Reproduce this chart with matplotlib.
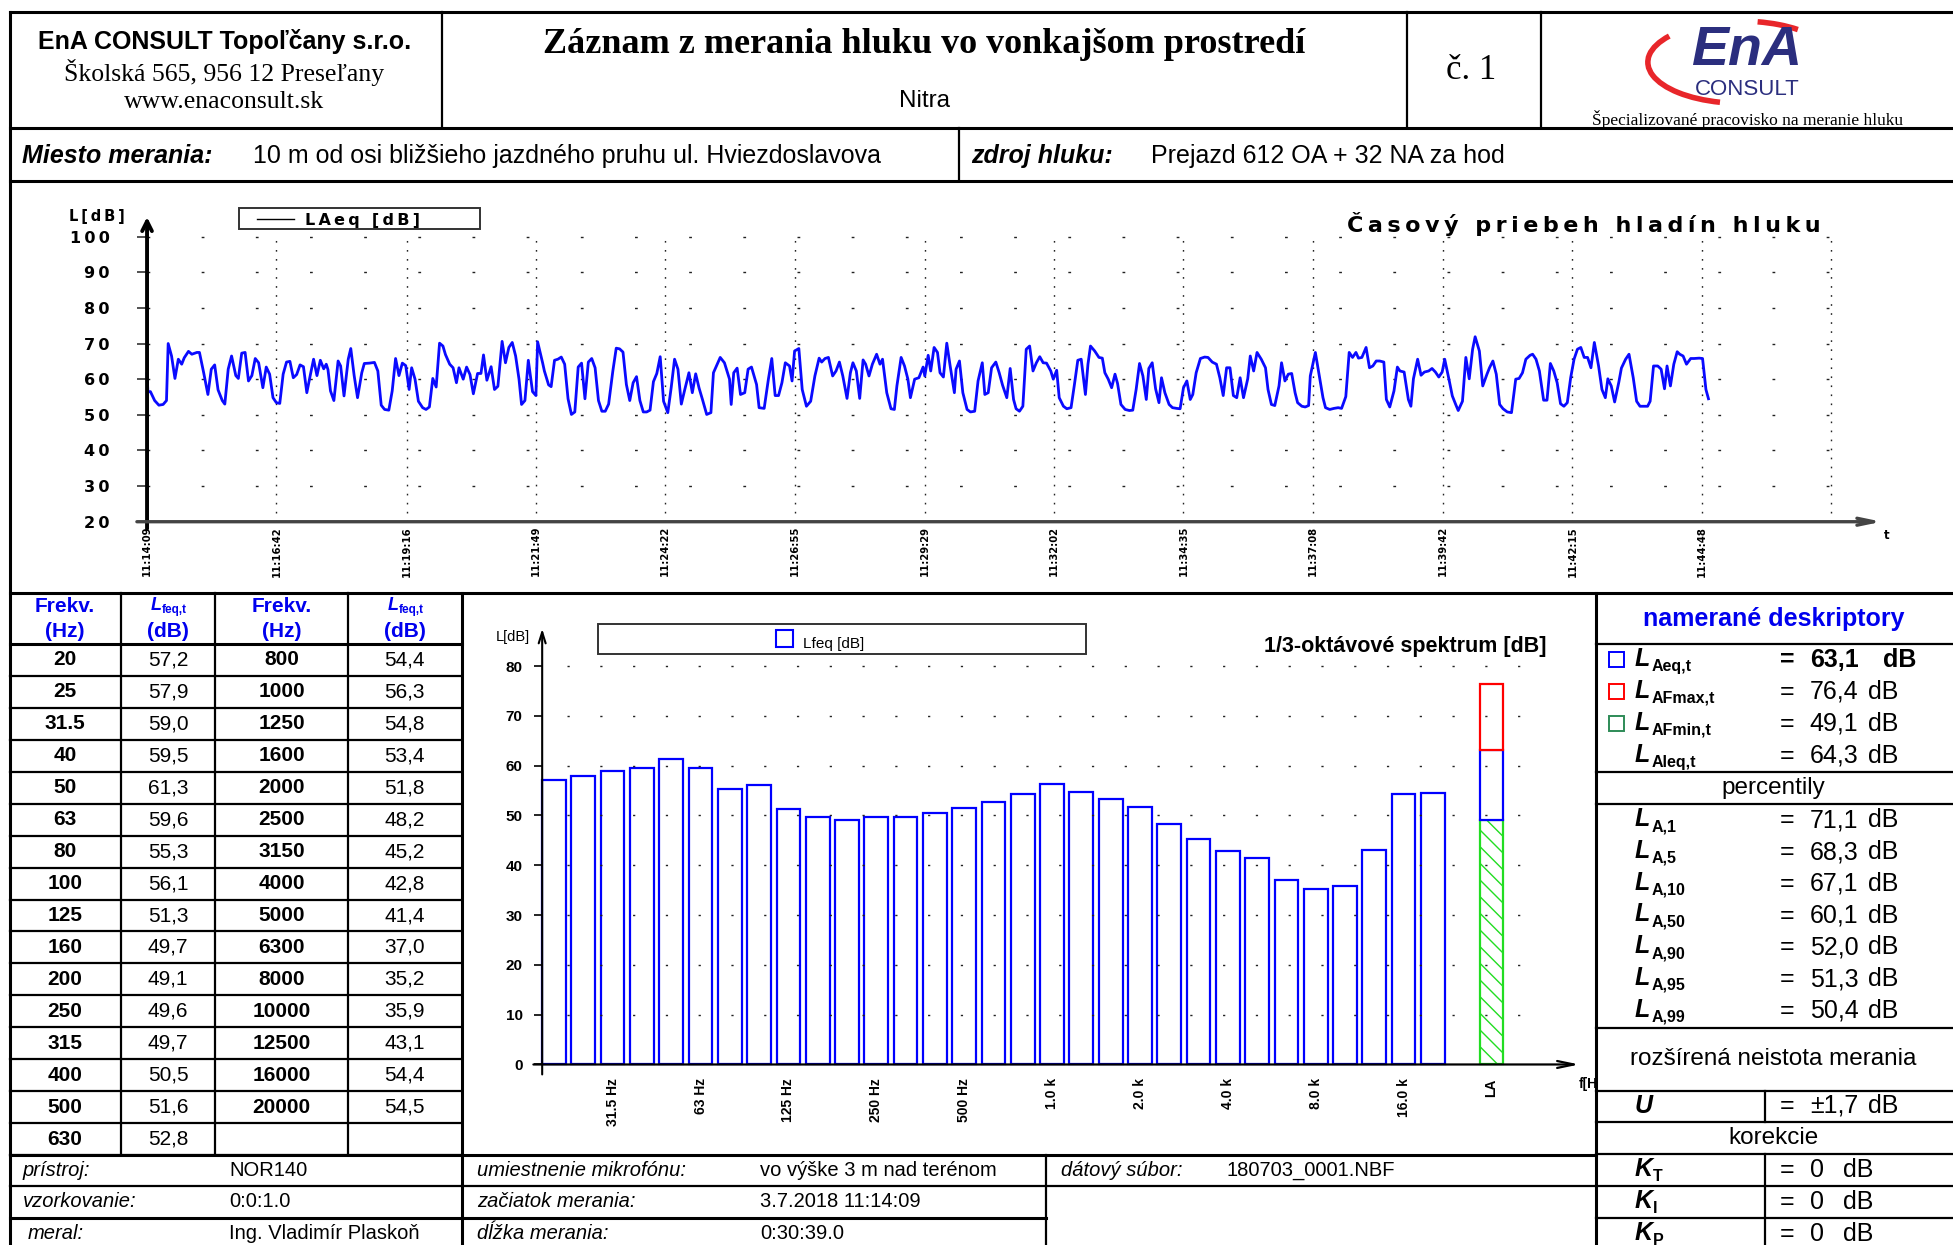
import matplotlib
matplotlib.use("Agg")
import matplotlib.pyplot as plt
from matplotlib.patches import Rectangle, Arc

# ---------------- data ----------------
freq_labels = ["20", "25", "31.5", "40", "50", "63", "80", "100", "125", "160",
               "200", "250", "315", "400", "500", "630", "800", "1000", "1250",
               "1600", "2000", "2500", "3150", "4000", "5000", "6300", "8000",
               "10000", "12500", "16000", "20000"]
lfeq = [57.2, 57.9, 59.0, 59.5, 61.3, 59.6, 55.3, 56.1, 51.3, 49.7, 49.1, 49.6,
        49.7, 50.5, 51.6, 52.8, 54.4, 56.3, 54.8, 53.4, 51.8, 48.2, 45.2, 42.8,
        41.4, 37.0, 35.2, 35.9, 43.1, 54.4, 54.5]
spec_tick_bands = ["31.5", "63", "125", "250", "500", "1000", "2000", "4000", "8000", "16000"]
spec_tick_labels = ["31.5 Hz", "63 Hz", "125 Hz", "250 Hz", "500 Hz", "1.0 k",
                    "2.0 k", "4.0 k", "8.0 k", "16.0 k"]

LAeq, LAFmax, LAFmin, LAleq = 63.1, 76.4, 49.1, 64.3
perc_names = ["1", "5", "10", "50", "90", "95", "99"]
perc_values = [71.1, 68.3, 67.1, 60.1, 52.0, 51.3, 50.4]
U_value = 1.7
corr_names = ["T", "I", "P"]
corr_values = [0, 0, 0]

time_labels = ["11:14:09", "11:16:42", "11:19:16", "11:21:49", "11:24:22", "11:26:55",
               "11:29:29", "11:32:02", "11:34:35", "11:37:08", "11:39:42", "11:42:15",
               "11:44:48"]

# LAeq time history (seconds from start, dB)
laeq_history = [
    (0, 61.5), (1, 56.5), (4, 56.5), (9, 54.0), (14, 52.7), (19, 52.9), (23, 54.0), (25, 70.0),
    (29, 66.5), (33, 60.2), (37, 65.6), (41, 64.2), (44, 66.0), (49, 67.8), (53, 67.0), (59, 67.5),
    (62, 67.5), (67, 61.8), (72, 55.7), (76, 62.8), (80, 64.0), (84, 57.0), (89, 54.0), (92, 53.0),
    (96, 62.8), (100, 66.5), (105, 61.0), (108, 60.2), (112, 67.3), (116, 67.5), (120, 59.5),
    (124, 61.0), (128, 65.8), (132, 64.6), (137, 57.6), (141, 63.4), (145, 61.4), (149, 54.8),
    (153, 53.4), (157, 53.2), (161, 61.4), (165, 64.8), (169, 65.0), (173, 60.4), (177, 61.3),
    (181, 64.0), (185, 63.5), (189, 56.2), (193, 61.0), (197, 65.6), (201, 61.0), (205, 65.3),
    (209, 62.9), (212, 64.2), (214, 62.7), (217, 56.7), (221, 54.0), (226, 65.1), (229, 63.7),
    (233, 55.3), (238, 65.6), (241, 68.6), (245, 61.0), (249, 54.8), (254, 61.8), (257, 64.4),
    (263, 64.5), (269, 64.7), (273, 62.3), (277, 52.7), (281, 51.5), (286, 51.3), (290, 56.7),
    (294, 65.8), (298, 61.0), (302, 64.5), (306, 63.8), (310, 57.1), (313, 63.2), (317, 60.0),
    (321, 53.8), (326, 52.0), (330, 51.5), (334, 52.2), (338, 60.2), (342, 57.8), (346, 70.1),
    (350, 69.3), (353, 66.9), (358, 64.2), (362, 63.2), (366, 59.0), (369, 63.2), (374, 60.0),
    (378, 63.4), (382, 61.3), (386, 55.9), (391, 61.6), (395, 61.6), (398, 66.8), (402, 59.7),
    (407, 63.5), (411, 57.1), (415, 58.0), (420, 70.6), (424, 64.6), (428, 68.9), (432, 70.3),
    (436, 66.5), (440, 60.0), (443, 52.9), (447, 54.0), (451, 65.3), (456, 56.5), (460, 55.4),
    (462, 70.5), (468, 64.5), (470, 62.3), (475, 58.4), (478, 57.9), (482, 65.3), (486, 65.6),
    (490, 66.2), (494, 64.2), (498, 54.5), (502, 50.1), (506, 50.8), (510, 63.4), (514, 64.5),
    (518, 54.5), (522, 64.8), (526, 65.8), (530, 63.2), (534, 54.0), (538, 51.0), (542, 51.0),
    (546, 53.0), (551, 62.3), (555, 68.7), (559, 68.5), (563, 67.6), (567, 58.5), (571, 54.0),
    (575, 59.0), (579, 60.7), (583, 54.0), (587, 50.8), (591, 50.8), (595, 51.3), (599, 59.3),
    (603, 61.6), (607, 66.3), (611, 53.8), (616, 50.6), (620, 57.6), (624, 65.6), (628, 62.8),
    (632, 53.0), (636, 57.0), (641, 61.8), (645, 56.2), (649, 61.5), (653, 57.5),
    (657, 54.3), (662, 50.1), (667, 50.6), (670, 61.8), (678, 66.1), (683, 64.6), (689, 60.0),
    (691, 52.9), (694, 61.8), (698, 63.1), (702, 55.7), (707, 56.2), (711, 62.8), (715, 63.4),
    (721, 58.5), (724, 52.0), (730, 51.8), (735, 60.0), (739, 65.8), (743, 55.4), (747, 55.4),
    (751, 59.0), (755, 64.6), (760, 63.7), (763, 59.5), (766, 67.9), (771, 68.6), (775, 57.1),
    (780, 52.4), (785, 53.8), (790, 60.9), (795, 65.9), (798, 64.8), (802, 65.8), (806, 66.1),
    (811, 60.9), (815, 62.3), (819, 64.8), (823, 60.9), (828, 54.6), (832, 61.8), (835, 64.6),
    (839, 62.3), (843, 54.6), (847, 65.4), (850, 64.2), (854, 60.9), (858, 64.2), (863, 67.0),
    (867, 64.2), (870, 65.6), (875, 56.2), (880, 51.7), (884, 51.5), (887, 58.1), (892, 66.1),
    (896, 63.7), (900, 60.0), (903, 54.8), (908, 60.0), (913, 60.4), (918, 63.4), (920, 60.9),
    (924, 66.7), (927, 62.3), (931, 68.9), (935, 67.5), (938, 61.8), (942, 60.6), (946, 70.1),
    (950, 63.7), (955, 56.2), (957, 62.8), (961, 65.1), (965, 56.2), (970, 51.5), (974, 50.8),
    (979, 51.0), (983, 59.5), (988, 64.6), (991, 55.7), (995, 56.2), (999, 63.2), (1004, 64.8),
    (1008, 61.8), (1012, 58.3), (1017, 54.8), (1021, 63.0), (1025, 54.3), (1028, 51.7),
    (1032, 51.0), (1036, 52.4), (1040, 68.4), (1044, 69.3), (1048, 62.3), (1052, 64.6),
    (1056, 66.3), (1060, 64.6), (1064, 64.5), (1069, 62.3), (1072, 60.0), (1076, 62.5),
    (1079, 54.8), (1084, 52.4), (1088, 51.7), (1093, 52.0), (1097, 58.5), (1101, 65.3),
    (1105, 65.6), (1110, 55.7), (1113, 64.2), (1116, 69.3), (1121, 67.9), (1126, 66.1),
    (1130, 65.9), (1133, 61.8), (1137, 60.0), (1141, 57.6), (1145, 61.4), (1148, 58.8),
    (1152, 52.9), (1157, 51.5), (1162, 51.2), (1166, 51.3), (1170, 57.1), (1174, 64.4),
    (1178, 60.9), (1182, 54.3), (1185, 63.0), (1189, 64.6), (1193, 57.3), (1197, 53.4),
    (1200, 60.4), (1204, 56.2), (1209, 52.9), (1213, 52.0), (1218, 51.8), (1222, 51.7),
    (1226, 57.6), (1230, 59.5), (1234, 54.3), (1237, 55.7), (1241, 61.8), (1246, 65.8),
    (1251, 66.2), (1255, 66.1), (1260, 64.8), (1265, 64.2), (1269, 60.4), (1273, 55.4),
    (1277, 63.2), (1281, 63.2), (1285, 55.4), (1289, 54.8), (1293, 60.4), (1297, 54.8),
    (1302, 60.1), (1305, 66.5), (1309, 62.3), (1313, 67.5), (1318, 65.6), (1323, 63.2),
    (1326, 57.1), (1330, 52.9), (1334, 52.6), (1339, 58.1), (1342, 64.6), (1346, 59.5),
    (1350, 61.4), (1354, 61.6), (1358, 56.2), (1361, 53.4), (1366, 52.4), (1370, 52.2),
    (1374, 52.6), (1376, 60.9), (1382, 67.5), (1386, 61.8), (1391, 54.8), (1394, 52.0),
    (1399, 51.5), (1404, 51.8), (1409, 52.0), (1413, 51.8), (1418, 55.1), (1422, 67.5),
    (1426, 66.1), (1430, 67.5), (1433, 65.9), (1437, 66.1), (1442, 68.9), (1446, 63.2),
    (1450, 63.7), (1454, 65.1), (1458, 65.1), (1463, 64.8), (1466, 54.3), (1470, 52.2),
    (1475, 56.7), (1479, 63.4), (1482, 62.3), (1487, 62.0), (1492, 54.3), (1495, 52.4),
    (1498, 60.1), (1503, 65.6), (1507, 61.1), (1511, 62.0), (1516, 62.3), (1520, 63.0),
    (1524, 62.0), (1528, 60.6), (1532, 62.0), (1535, 65.6), (1540, 60.0), (1544, 55.3),
    (1548, 52.9), (1551, 51.2), (1556, 53.8), (1560, 66.1), (1564, 60.1), (1568, 68.4),
    (1571, 71.9), (1576, 67.9), (1580, 58.1), (1585, 61.4), (1588, 63.2), (1592, 65.1),
    (1596, 61.4), (1600, 52.9), (1604, 51.7), (1609, 50.8), (1614, 50.6), (1619, 60.0),
    (1623, 60.2), (1627, 61.8), (1631, 65.6), (1636, 66.7), (1639, 67.0), (1643, 65.6),
    (1647, 62.3), (1652, 54.1), (1656, 54.1), (1660, 64.4), (1664, 62.3), (1668, 59.0),
    (1672, 53.1), (1676, 52.4), (1680, 53.4), (1684, 60.4), (1688, 65.6), (1692, 68.4),
    (1696, 68.9), (1700, 66.1), (1704, 66.1), (1708, 63.2), (1712, 70.3), (1717, 63.7),
    (1721, 57.1), (1725, 54.8), (1728, 60.1), (1732, 58.1), (1736, 53.6), (1741, 59.2),
    (1744, 63.1), (1749, 65.6), (1753, 67.0), (1758, 60.4), (1762, 53.8), (1766, 52.4),
    (1771, 52.4), (1775, 52.4), (1778, 53.8), (1782, 63.7), (1787, 63.7), (1791, 62.8),
    (1795, 57.3), (1798, 63.7), (1802, 58.1), (1806, 64.2), (1810, 67.7), (1813, 67.0),
    (1817, 66.5), (1821, 64.2), (1826, 65.8), (1830, 65.8), (1836, 65.9), (1840, 65.8),
    (1844, 57.1), (1847, 54.5),
]
time_s = [p[0] for p in laeq_history]
laeq_t = [p[1] for p in laeq_history]

SANS = ["Liberation Sans", "DejaVu Sans"]
SERIF = ["Liberation Serif", "DejaVu Serif"]
WIDE = ["DejaVu Sans"]
BLUE = "#0000ee"
NAVY = "#2b2e7e"

W, H = 1568.0, 1000.0  # layout units (reference image scaled)


def box(x0, y0, x1, y1):
    return [x0 / W, 1 - y1 / H, (x1 - x0) / W, (y1 - y0) / H]


def wide(s, n=1):
    return ("\u2009" * n).join(s)


def secs(label):
    h, m, s = map(int, label.split(":"))
    return h * 3600 + m * 60 + s


def fmt(v):
    return f"{v:.1f}".replace(".", ",")


fig = plt.figure(figsize=(19.53, 12.45), dpi=100)
fig.patch.set_facecolor("white")

# ---------------- time history chart ----------------
tick_t = [secs(l) - secs(time_labels[0]) for l in time_labels]
grid_end = tick_t[-1] + (tick_t[-1] - tick_t[-2])

ax1 = fig.add_axes(box(40, 160, 1540, 470))
ax1.set_xlim(-115, 2095)
ax1.set_ylim(2.2, 110.5)
ax1.patch.set_visible(False)
for sp in ax1.spines.values():
    sp.set_visible(False)
ax1.spines["left"].set_position(("data", 0))
ax1.spines["bottom"].set_position(("data", 20))

for v in range(30, 101, 10):
    ax1.plot([0, grid_end], [v, v], color="#222222", lw=1, linestyle=(0, (2, 37)))
for tt in tick_t[1:] + [grid_end]:
    ax1.plot([tt, tt], [20, 100], color="#222222", lw=1, linestyle=(0, (1.2, 5.3)))

ax1.plot(time_s, laeq_t, color="#0a0aff", lw=2.0)

ax1.annotate("", xy=(0, 105.5), xytext=(0, 18),
             arrowprops=dict(arrowstyle="->,head_length=0.7,head_width=0.35", lw=2.8,
                             color="black", shrinkA=0, shrinkB=0))
ax1.annotate("", xy=(2052, 20), xytext=(-12, 20),
             arrowprops=dict(arrowstyle="->,head_length=1.2,head_width=0.25", lw=2.4,
                             color="#444444", shrinkA=0, shrinkB=0))

ax1.set_yticks(range(20, 101, 10))
ax1.set_yticklabels([wide(str(v)) for v in range(20, 101, 10)], family=WIDE,
                    fontweight="bold", fontsize=11.5)
ax1.tick_params(axis="y", length=7, width=1.2, pad=20, color="#333333")
ax1.set_xticks(tick_t)
ax1.set_xticklabels(time_labels, rotation=90, family=WIDE, fontweight="bold", fontsize=7.2)
ax1.tick_params(axis="x", length=0, pad=3)
ax1.text(2054, 16.2, "t", family=WIDE, fontweight="bold", fontsize=8.5, ha="left", va="center")

# ---------------- 1/3-octave spectrum ----------------
ax2 = fig.add_axes(box(380, 490, 1281, 930))
ax2.set_xlim(-2.351, 35.956)
ax2.set_ylim(-18.75, 91.25)
ax2.patch.set_visible(False)
for sp in ax2.spines.values():
    sp.set_visible(False)
ax2.spines["left"].set_position(("data", 0))
ax2.spines["bottom"].set_position(("data", 0))

bw = 0.81
for v in range(10, 81, 10):
    ax2.plot([0.85, 34.2], [v, v], color="#222222", lw=1, linestyle=(0, (1.6, 22)))

idx = list(range(len(lfeq)))
ax2.bar(idx, lfeq, width=bw, align="edge", facecolor="white", edgecolor="#0000ff", lw=1.6)
la_x = len(lfeq) + 1
ax2.bar(la_x, LAFmin, width=bw, align="edge", facecolor="white", edgecolor="#22dd22",
        hatch="\\\\", lw=1.6)
ax2.bar(la_x, LAeq - LAFmin, bottom=LAFmin, width=bw, align="edge", facecolor="white",
        edgecolor="#0000ff", lw=1.6)
ax2.bar(la_x, LAFmax - LAeq, bottom=LAeq, width=bw, align="edge", facecolor="white",
        edgecolor="#ff0000", lw=1.6)

ax2.annotate("", xy=(0, 87.5), xytext=(0, -2),
             arrowprops=dict(arrowstyle="->,head_length=0.8,head_width=0.25", lw=1.5,
                             color="black", shrinkA=0, shrinkB=0))
ax2.annotate("", xy=(35.4, 0), xytext=(-0.3, 0),
             arrowprops=dict(arrowstyle="->,head_length=1.2,head_width=0.25", lw=1.6,
                             color="black", shrinkA=0, shrinkB=0))

ax2.set_yticks(range(0, 81, 10))
ax2.set_yticklabels([str(v) for v in range(0, 81, 10)], family=SANS, fontweight="bold",
                    fontsize=11)
ax2.tick_params(axis="y", length=6, width=1.2, pad=8)
xt = [freq_labels.index(b) + bw / 2 for b in spec_tick_bands] + [la_x + bw / 2]
ax2.set_xticks(xt)
ax2.set_xticklabels(spec_tick_labels + ["LA"], rotation=90, family=SANS,
                    fontweight="bold", fontsize=10)
ax2.tick_params(axis="x", length=0, pad=10)
ax2.text(35.4, -4, "f[Hz]", family=SANS, fontweight="bold", fontsize=10, ha="left",
         va="center", clip_on=True)

# ---------------- overlay: frame, tables, texts ----------------
ov = fig.add_axes([0, 0, 1, 1])
ov.set_xlim(0, W)
ov.set_ylim(H, 0)
ov.axis("off")
ov.patch.set_visible(False)

LW_O = 2.2
LW_I = 1.6


def hl(y, x0, x1, lw=LW_I):
    ov.plot([x0, x1], [y, y], color="black", lw=lw, solid_capstyle="projecting")


def vl(x, y0, y1, lw=LW_I):
    ov.plot([x, x], [y0, y1], color="black", lw=lw, solid_capstyle="projecting")


def txt(x, y, s, size, ha="left", va="center", family=SANS, weight="normal",
        style="normal", color="black"):
    ov.text(x, y, s, fontsize=size, ha=ha, va=va, family=family, fontweight=weight,
            fontstyle=style, color=color)


hl(10, 8, W, LW_O)
vl(8, 10, H, LW_O)
hl(103, 8, W, LW_O)
for x in (355, 1130, 1237):
    vl(x, 10, 103)
hl(145, 8, W, LW_O)
vl(770, 103, 145)
hl(476, 8, W, LW_O)
vl(371, 476, H, LW_O)
vl(1281, 476, H, LW_O)

# spectrum table
for x in (97, 173, 279):
    vl(x, 476, 928)
row_h = (928 - 517) / 16
for i in range(17):
    hl(517 + i * row_h, 8, 371, LW_O if i == 0 else LW_I)
hl(928, 8, 1281, LW_O)
hl(953, 8, 1281)
hl(978, 8, 840, LW_O)
vl(840, 928, H)

for cx in (52, 226):
    txt(cx, 487, "Frekv.", 15, ha="center", weight="bold", color=BLUE)
    txt(cx, 507, "(Hz)", 15, ha="center", weight="bold", color=BLUE)
for lx in (121, 311):
    txt(lx, 486, "L", 13, weight="bold", style="italic", color=BLUE)
    txt(lx + 9, 490, "feq,t", 8.5, weight="bold", color=BLUE)
    txt(lx + 14, 507, "(dB)", 15, ha="center", weight="bold", color=BLUE)

n_left = 16
for i, (f, v) in enumerate(zip(freq_labels, lfeq)):
    col = 0 if i < n_left else 1
    r = i if i < n_left else i - n_left
    yc = 517 + (r + 0.5) * row_h
    fx, vx = (52, 135) if col == 0 else (226, 325)
    txt(fx, yc, f, 15, ha="center", weight="bold")
    txt(vx, yc, fmt(v), 15, ha="center")

# descriptors panel
for y in (517, 620, 646, 826, 876, 901, 927, 953, 978):
    hl(y, 1281, W)
vl(1417, 876, 901)
vl(1417, 927, H)

txt(1424, 497, "namerané deskriptory", 18, ha="center", weight="bold", color=BLUE)
main_desc = [("Aeq,t", LAeq, "#0000ff"), ("AFmax,t", LAFmax, "#ff0000"),
             ("AFmin,t", LAFmin, "#2e8b57"), ("Aleq,t", LAleq, None)]
for i, (sub, val, c) in enumerate(main_desc):
    y = 530 + i * 25.7
    if c:
        ov.add_patch(Rectangle((1292, y - 6), 12, 12, fill=False, edgecolor=c, lw=1.4))
    txt(1312, y - 1, "L", 18, weight="bold", style="italic")
    txt(1326, y + 5, sub, 11.5, weight="bold")
    bold = "bold" if i == 0 else "normal"
    txt(1429, y, "=", 18, weight=bold)
    txt(1453, y, fmt(val), 18, weight=bold)
    txt(1512 if i == 0 else 1500, y, "dB", 18, weight=bold)

txt(1424, 633, "percentily", 17.5, ha="center")
for i, (n, val) in enumerate(zip(perc_names, perc_values)):
    y = 659 + i * 25.5
    txt(1312, y - 1, "L", 18, weight="bold", style="italic")
    txt(1326, y + 5, "A," + n, 11.5, weight="bold")
    txt(1429, y, "=", 18)
    txt(1453, y, fmt(val), 18)
    txt(1500, y, "dB", 18)

txt(1424, 851, "rozšírená neistota merania", 17.5, ha="center")
txt(1312, 888, "U", 18, weight="bold", style="italic")
txt(1429, 888, "=", 18)
txt(1453, 888, "±" + fmt(U_value), 18)
txt(1500, 888, "dB", 18)
txt(1424, 914, "korekcie", 17.5, ha="center")
for i, (n, val) in enumerate(zip(corr_names, corr_values)):
    y = 940 + i * 25.5
    txt(1312, y - 1, "K", 18, weight="bold", style="italic")
    txt(1327, y + 5, n, 11.5, weight="bold")
    txt(1429, y, "=", 18)
    txt(1453, y, str(val), 18)
    txt(1480, y, "dB", 18)

# bottom info rows
info = [
    (940, "prístroj:", "NOR140", "umiestnenie mikrofónu:", "vo výške 3 m nad terénom"),
    (965, "vzorkovanie:", "0:0:1.0", "začiatok merania:", "3.7.2018 11:14:09"),
    (991, "meral:", "Ing. Vladimír Plaskoň", "dĺžka merania:", "0:30:39.0"),
]
for y, l1, v1, l2, v2 in info:
    txt(22 if l1 == "meral:" else 18, y, l1, 14.5, style="italic")
    txt(184, y, v1, 14.5)
    txt(383, y, l2, 14.5, style="italic")
    txt(610, y, v2, 14.5)
txt(852, 940, "dátový súbor:", 14.5, style="italic")
txt(985, 940, "180703_0001.NBF", 14.5)

# header
txt(180, 33, "EnA CONSULT Topoľčany s.r.o.", 18, ha="center", weight="bold")
txt(180, 58, "Školská 565, 956 12 Preseľany", 18.5, ha="center", family=SERIF)
txt(180, 82, "www.enaconsult.sk", 18.5, ha="center", family=SERIF)
txt(742, 36, "Záznam z merania hluku vo vonkajšom prostredí", 26, ha="center",
    family=SERIF, weight="bold")
txt(742, 81, "Nitra", 17.5, ha="center")
txt(1181, 57, "č. 1", 25, ha="center", family=SERIF)

# logo
ov.add_patch(Arc((1398, 50), 150, 66, theta1=118, theta2=200, color="#e8262a", lw=4))
ov.add_patch(Arc((1398, 50), 150, 66, theta1=292, theta2=330, color="#e8262a", lw=4))
txt(1402, 62, "EnA", 40, ha="center", va="bottom", weight="bold", style="italic",
    color=NAVY)
txt(1403, 63.5, "CONSULT", 16, ha="center", va="top", color=NAVY)
txt(1403, 96, "Špecializované pracovisko na meranie hluku", 12.5, ha="center", family=SERIF)

# location row
txt(18, 125, "Miesto merania:", 18, weight="bold", style="italic")
txt(203, 125, "10 m od osi bližšieho jazdného pruhu ul. Hviezdoslavova", 18)
txt(780, 125, "zdroj hluku:", 18, weight="bold", style="italic")
txt(924, 125, "Prejazd 612 OA + 32 NA za hod", 18)

# time chart texts
txt(55, 174, wide("L[dB]"), 10.5, family=WIDE, weight="bold")
ov.add_patch(Rectangle((192, 167), 193, 17, fill=False, edgecolor="#333333", lw=1.4))
ov.plot([206, 236], [176, 176], color="black", lw=1)
txt(245, 177, wide("LAeq [dB]"), 11.5, family=WIDE, weight="bold")
txt(1462, 180, wide("Časový priebeh hladín hluku"), 16, ha="right", family=WIDE,
    weight="bold")

# spectrum texts
txt(398, 512, "L[dB]", 10.5)
ov.add_patch(Rectangle((480, 501), 392, 24, fill=False, edgecolor="#333333", lw=1.4))
ov.add_patch(Rectangle((623, 506), 14, 14, fill=False, edgecolor="#0000ff", lw=1.5))
txt(645, 517, "Lfeq [dB]", 11)
txt(1242, 519, "1/3-oktávové spektrum [dB]", 15.5, ha="right", weight="bold")

fig.savefig("out.png", dpi=100)
